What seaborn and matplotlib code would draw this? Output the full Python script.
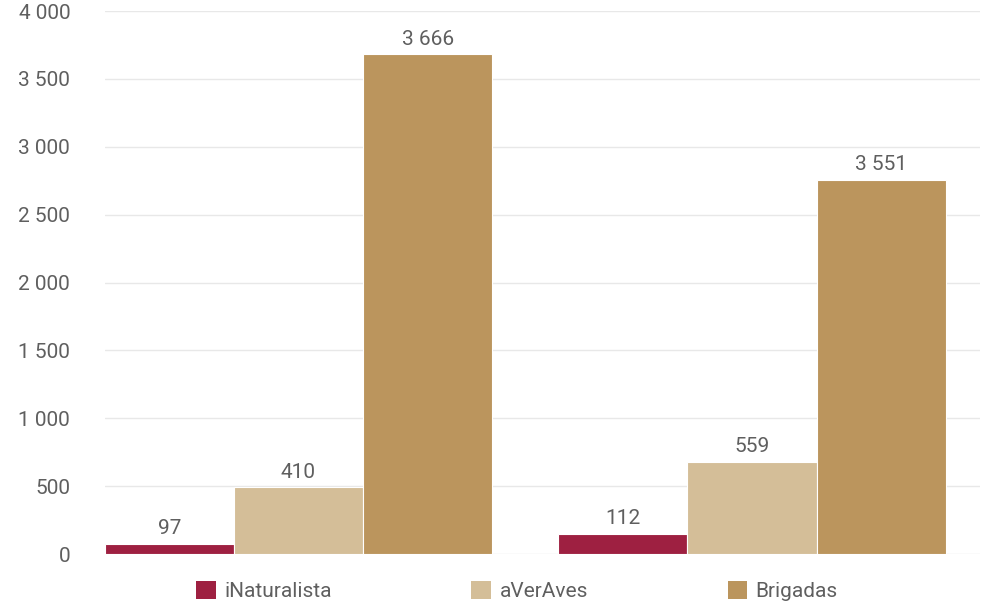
import matplotlib
matplotlib.use('Agg')
import matplotlib.pyplot as plt
import seaborn as sns
import pandas as pd
from matplotlib.patches import Patch
from matplotlib.ticker import FuncFormatter

# data (bar heights as drawn, labels as printed)
groups = ['Grupo 1', 'Grupo 2']
sources = ['iNaturalista', 'aVerAves', 'Brigadas']
inaturalista = [74, 147]
averaves = [491, 678]
brigadas = [3683, 2755]
inaturalista_labels = ['97', '112']
averaves_labels = ['410', '559']
brigadas_labels = ['3 666', '3 551']
colors = ['#9E2041', '#D4BE98', '#BB955D']
y_ticks = [0, 500, 1000, 1500, 2000, 2500, 3000, 3500, 4000]

df = pd.DataFrame({
    'group': groups * 3,
    'source': [s for s in sources for _ in groups],
    'value': inaturalista + averaves + brigadas,
})

sns.set_theme(style='white')
plt.rcParams['font.family'] = ['Roboto', 'DejaVu Sans']
text_color = '#5f5f5f'

fig = plt.figure(figsize=(9.81, 6.06), dpi=100)
ax = fig.add_axes([0.107, 0.0858, 0.892, 0.896])

sns.barplot(data=df, x='group', y='value', hue='source', hue_order=sources,
            palette=colors, width=0.854, saturation=1, ax=ax,
            edgecolor='white', linewidth=0.8, legend=False, errorbar=None)

for container, labels in zip(ax.containers, [inaturalista_labels, averaves_labels, brigadas_labels]):
    ax.bar_label(container, labels=labels, padding=4, fontsize=15, color=text_color)

ax.set_ylim(0, 4000)
ax.set_xlim(-0.4267, 1.5027)
ax.set_yticks(y_ticks)
ax.yaxis.set_major_formatter(FuncFormatter(lambda v, p: f'{int(v):,}'.replace(',', ' ')))
ax.tick_params(axis='y', labelsize=15, labelcolor=text_color, length=0, pad=25)
ax.set_xticks([])
ax.set_xlabel('')
ax.set_ylabel('')
ax.grid(axis='y', color='#e8e8e8', linewidth=1)
ax.set_axisbelow(True)
for spine in ax.spines.values():
    spine.set_visible(False)

handles = [Patch(facecolor=c, edgecolor='none') for c in colors]
fig.legend(handles, sources, loc='center', bbox_to_anchor=(0.527, 0.025), ncol=3,
           frameon=False, fontsize=15, labelcolor=text_color, handlelength=0.95,
           handleheight=0.95, handletextpad=0.4, columnspacing=6.7)

plt.savefig('out.png', dpi=100)
plt.close()
